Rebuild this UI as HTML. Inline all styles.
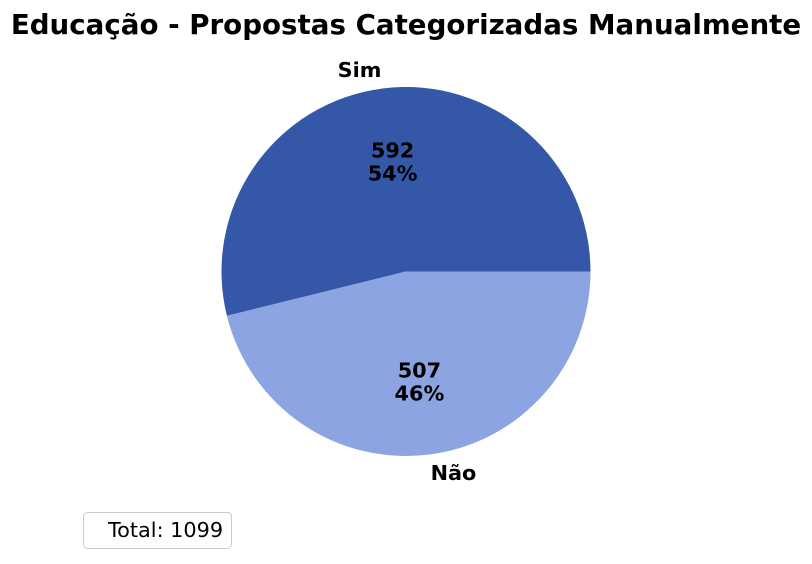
<!DOCTYPE html>
<html><head><meta charset="utf-8"><style>
body{margin:0;background:#fff;width:812px;height:559px;overflow:hidden;font-family:"Liberation Sans","DejaVu Sans",sans-serif}
</style></head><body>
<svg width="812" height="559" id="chart" xmlns="http://www.w3.org/2000/svg">
<text x="406" y="34" text-anchor="middle" font-family="DejaVu Sans, Liberation Sans, sans-serif" font-weight="bold" font-size="27.7">Educação - Propostas Categorizadas Manualmente</text>
<g id="slices"></g>
<g>
<rect x="83.5" y="512.5" width="148" height="36" rx="4" fill="#fff" stroke="#ccc"/>
<text x="108" y="537" font-family="DejaVu Sans, Liberation Sans, sans-serif" font-size="20.8">Total: 1099</text>
</g>
</svg>
<script>
const categories=["Sim","Não"];
const values=[592,507];
const colors=["#3457a8","#8ca4e2"];
const cx=406,cy=271.5,r=184.5;
const svg=document.getElementById('slices');
const NS="http://www.w3.org/2000/svg";
const total=values.reduce((a,b)=>a+b,0);
let a0=0;
values.forEach((v,i)=>{
  const sweep=v/total*2*Math.PI, a1=a0+sweep;
  const x0=cx+r*Math.cos(a0),y0=cy-r*Math.sin(a0),x1=cx+r*Math.cos(a1),y1=cy-r*Math.sin(a1);
  const p=document.createElementNS(NS,'path');
  p.setAttribute('d',`M${cx},${cy}L${x0},${y0}A${r},${r} 0 ${sweep>Math.PI?1:0} 0 ${x1},${y1}Z`);
  p.setAttribute('fill',colors[i]);
  
  
  svg.appendChild(p);
  const m=(a0+a1)/2;
  const lx=cx+0.6*r*Math.cos(m),ly=cy-0.6*r*Math.sin(m);
  const t=document.createElementNS(NS,'text');
  t.setAttribute('text-anchor','middle');t.setAttribute('font-weight','bold');t.setAttribute('font-size','20.8');
  t.setAttribute('font-family','DejaVu Sans, Liberation Sans, sans-serif');
  t.innerHTML=`<tspan x="${lx}" y="${ly-4}">${v}</tspan><tspan x="${lx}" y="${ly+19}">${Math.round(v/total*100)}%</tspan>`;
  
  
  svg.appendChild(t);
  const ox=cx+1.1*r*Math.cos(m),oy=cy-1.1*r*Math.sin(m);
  const c=document.createElementNS(NS,'text');
  c.setAttribute('x',ox);c.setAttribute('y',oy+7);
  c.setAttribute('text-anchor',Math.cos(m)<0?'end':'start');
  c.setAttribute('font-weight','bold');c.setAttribute('font-size','20.8');
  c.setAttribute('font-family','DejaVu Sans, Liberation Sans, sans-serif');
  c.textContent=categories[i];
  
  
  svg.appendChild(c);
  a0=a1;
});
</script>
</body></html>
